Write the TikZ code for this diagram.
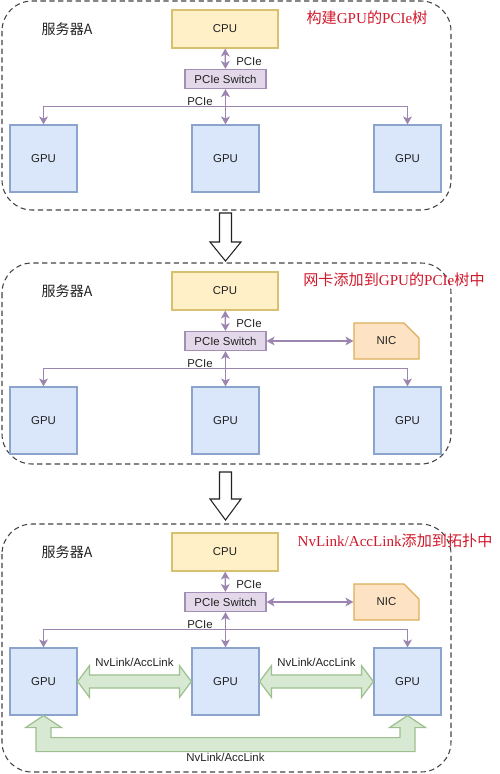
\documentclass[tikz,border=0pt]{standalone}
\usepackage{fontspec}
\setmainfont{Liberation Serif}
\setsansfont{Liberation Sans}
\newfontfamily\cjk{Noto Sans CJK SC}
\usetikzlibrary{positioning,arrows.meta,calc}
\definecolor{cpufill}{HTML}{FFF0C8}
\definecolor{cpuline}{HTML}{D9C070}
\definecolor{swfill}{HTML}{E3D8E9}
\definecolor{swline}{HTML}{A48FB4}
\definecolor{gpufill}{HTML}{DAE6FA}
\definecolor{gpuline}{HTML}{8CA4CC}
\definecolor{nicfill}{HTML}{FDE3C4}
\definecolor{nicline}{HTML}{DDAE58}
\definecolor{nvfill}{HTML}{D7E8D3}
\definecolor{nvline}{HTML}{9DC08E}
\definecolor{wire}{HTML}{9C86B0}
\definecolor{note}{HTML}{D0182B}
\definecolor{ink}{HTML}{222222}
\newcommand{\zh}[1]{{\cjk #1}}
\tikzset{
  panel/.style={draw=ink!85,densely dashed,line width=0.6pt,rounded corners=0.6cm},
  hwbox/.style={draw,line width=0.7pt,font=\sffamily\fontsize{6.5}{7}\selectfont,text=ink,inner sep=0pt},
  cpubox/.style={hwbox,fill=cpufill,draw=cpuline,minimum width=2.12cm,minimum height=0.76cm},
  swbox/.style={hwbox,fill=swfill,draw=swline,minimum width=1.62cm,minimum height=0.38cm},
  gpubox/.style={hwbox,fill=gpufill,draw=gpuline,minimum size=1.34cm},
  nicbox/.style={hwbox,draw=none,minimum width=1.3cm,minimum height=0.72cm},
  nicshape/.style={draw=nicline,fill=nicfill,line width=0.7pt},
  wirelbl/.style={font=\sffamily\fontsize{6.5}{7}\selectfont,text=ink,inner sep=1pt},
  pcie/.style={draw=wire,line width=0.7pt},
  nvl/.style={draw=nvline,fill=nvfill,line width=0.7pt},
  hollow/.style={draw=ink,fill=white,line width=0.6pt},
  title/.style={text=note,font=\fontsize{8.6}{10}\selectfont},
  srv/.style={text=ink,font=\cjk\fontsize{8}{10}\selectfont}
}
% one server box: prefix, top, height, title x, title
\newcommand{\serverpanel}[5]{%
  \begin{scope}[shift={(0,#2)}]
    \draw[panel](2,0)rectangle(451,#3);
    \node[srv] at (67,28){服务器A};
    \node[title] at (#4,17){#5};
    \node[cpubox] (cpu#1) at (225,28){CPU};
    \node[swbox] (sw#1) at (225.5,78){PCIe Switch};
    \foreach \i/\x in {1/43.5,2/225.5,3/407.5} \node[gpubox] (g#1\i) at (\x,157.5){GPU};
    \draw[pcie,<->](cpu#1)--(sw#1);
    \draw[pcie,<->](g#11.north)--++(0,-18)-|(g#13.north);
    \draw[pcie,<->](sw#1)--(g#12);
    \node[wirelbl] at (249,61){PCIe};
    \node[wirelbl] at (200,101){PCIe};
  \end{scope}}
\newcommand{\nic}[2]{%
  \filldraw[nicshape]($#2+(-32.5,18)$)--($#2+(-32.5,-18)$)--($#2+(17.5,-18)$)--($#2+(32.5,-3)$)--($#2+(32.5,18)$)--cycle;
  \node[nicbox] (#1) at #2 {NIC};}
\newcommand{\nvlink}[2]{%
  \filldraw[nvl](#1.east)--($(#1.east)+(12,-16)$)--($(#1.east)+(12,-6.5)$)--($(#2.west)+(-12,-6.5)$)
    --($(#2.west)+(-12,-16)$)--(#2.west)--($(#2.west)+(-12,16)$)--($(#2.west)+(-12,6.5)$)
    --($(#1.east)+(12,6.5)$)--($(#1.east)+(12,16)$)--cycle;
  \node[wirelbl] at ($(#1.east)!0.5!(#2.west)+(0,-19)$){NvLink/AccLink};}

\begin{document}
\begin{tikzpicture}[x=0.02cm,y=-0.02cm,>={Stealth[length=4.5pt,width=5pt,inset=1.2pt]}]
  \useasboundingbox (0,0) rectangle (500,774);
  \serverpanel{a}{1}{209}{367}{\zh{构建}GPU\zh{的}PCIe\zh{树}}
  \serverpanel{b}{263}{201}{394}{\zh{网卡添加到}GPU\zh{的}PCIe\zh{树中}}
  \nic{nicb}{(386.5,341)}
  \draw[pcie,<->](swb)--(nicb);
  \serverpanel{c}{524}{248}{395}{NvLink/AccLink\zh{添加到拓扑中}}
  \nic{nicc}{(386.5,602)}
  \draw[pcie,<->](swc)--(nicc);
  \nvlink{gc1}{gc2}
  \nvlink{gc2}{gc3}
  \filldraw[nvl](gc1.south)--($(gc1.south)+(18,12)$)--($(gc1.south)+(7.5,12)$)--($(gc1.south)+(7.5,22)$)
    --($(gc3.south)+(-7.5,22)$)--($(gc3.south)+(-7.5,12)$)--($(gc3.south)+(-18,12)$)--(gc3.south)
    --($(gc3.south)+(18,12)$)--($(gc3.south)+(7.5,12)$)--($(gc3.south)+(7.5,36)$)
    --($(gc1.south)+(-7.5,36)$)--($(gc1.south)+(-7.5,12)$)--($(gc1.south)+(-18,12)$)--cycle;
  \node[wirelbl] at ($(gc2.south)+(0,42)$){NvLink/AccLink};
  % steps between the boxes
  \foreach \t/\b/\e in {213/242/261,472/499/520}
    \draw[hollow](219.5,\t)--(231.5,\t)--(231.5,\b)--(241,\b)--(225.5,\e)--(210,\b)--(219.5,\b)--cycle;
\end{tikzpicture}
\end{document}
